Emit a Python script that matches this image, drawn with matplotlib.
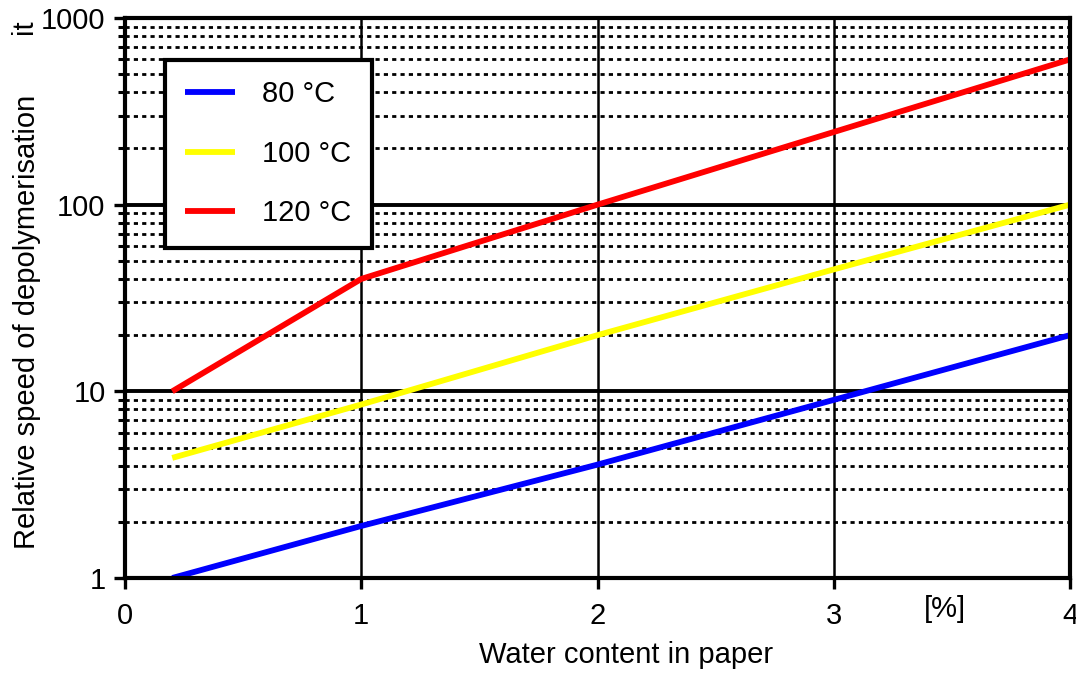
import matplotlib
matplotlib.use("Agg")
import matplotlib.pyplot as plt
from matplotlib.ticker import LogLocator, FixedLocator, NullFormatter, FixedFormatter

plt.rcParams['font.family'] = ['Liberation Sans', 'DejaVu Sans']

# Water content in paper [%]
water_80 = [0.2, 1, 2, 3, 4]
speed_80 = [1.0, 1.9, 4.05, 9.0, 20.0]

water_100 = [0.2, 1, 2, 3, 4]
speed_100 = [4.4, 8.5, 20.0, 45.0, 100.0]

water_120 = [0.2, 1, 2, 3, 4]
speed_120 = [10.0, 40.0, 100.0, 245.0, 600.0]

labels = ["80 °C", "100 °C", "120 °C"]
colors = ["#0000ff", "#ffff00", "#ff0000"]

x_ticks = [0, 1, 2, 3, 4]
y_ticks = [1, 10, 100, 1000]
y_tick_labels = ["1", "10", "100", "1000"]

FS = 21

fig = plt.figure(figsize=(10.76, 6.73), dpi=100)
ax = fig.add_axes([125 / 1076, 1 - 578 / 673, 945 / 1076, 560 / 673])

ax.set_yscale('log')
ax.set_xlim(0, 4)
ax.set_ylim(1, 1000)

# grid: minor dotted rows, solid decade rows and vertical lines
for dec in [1, 10, 100]:
    for m in range(2, 10):
        ax.axhline(dec * m, color='black', lw=2.0, ls=(0, (1.5, 1.5)), zorder=1)
for v in [10, 100]:
    ax.axhline(v, color='black', lw=2.8, zorder=1.5)
for xv in [1, 2, 3]:
    ax.axvline(xv, color='black', lw=1.8, zorder=1.5)

series = [(water_80, speed_80), (water_100, speed_100), (water_120, speed_120)]
for (xs, ys), lab, col in zip(series, labels, colors):
    ax.plot(xs, ys, color=col, lw=4.2, label=lab, zorder=3, solid_capstyle='butt')

for sp in ax.spines.values():
    sp.set_linewidth(3.0)
    sp.set_color('black')
    sp.set_zorder(4)

ax.xaxis.set_major_locator(FixedLocator(x_ticks))
ax.set_xticklabels([str(v) for v in x_ticks])
ax.yaxis.set_major_locator(FixedLocator(y_ticks))
ax.yaxis.set_major_formatter(FixedFormatter(y_tick_labels))
ax.yaxis.set_minor_locator(LogLocator(base=10, subs=range(2, 10)))
ax.yaxis.set_minor_formatter(NullFormatter())

ax.tick_params(axis='both', which='major', direction='out', length=8, width=2.4,
               labelsize=FS, pad=6, color='black')
ax.tick_params(axis='x', which='major', pad=9)
ax.tick_params(axis='y', which='minor', direction='out', length=5, width=2.2)

ax.text(3.47, -17 / 560, "[%]", transform=ax.get_xaxis_transform(), ha='center', va='top',
        fontsize=FS)

fig.text(626 / 1076, 1 - 655 / 673, "Water content in paper", fontsize=FS,
         ha='center', va='center')
fig.text(27 / 1076, 1 - 322 / 673, "Relative speed of depolymerisation", fontsize=FS,
         rotation=90, ha='center', va='center')
fig.text(24 / 1076, 1 - 27 / 673, "it", rotation=90, fontsize=FS, ha='center', va='center')

leg = ax.legend(loc='upper left', bbox_to_anchor=(0.042, 0.925), fontsize=FS,
                frameon=True, fancybox=False, shadow=False, framealpha=1,
                edgecolor='black', handlelength=1.7, handletextpad=0.95,
                labelspacing=1.08, borderpad=0.7, borderaxespad=0)
leg.get_frame().set_linewidth(3.0)
leg.set_zorder(5)

fig.savefig("out.png", dpi=100)
